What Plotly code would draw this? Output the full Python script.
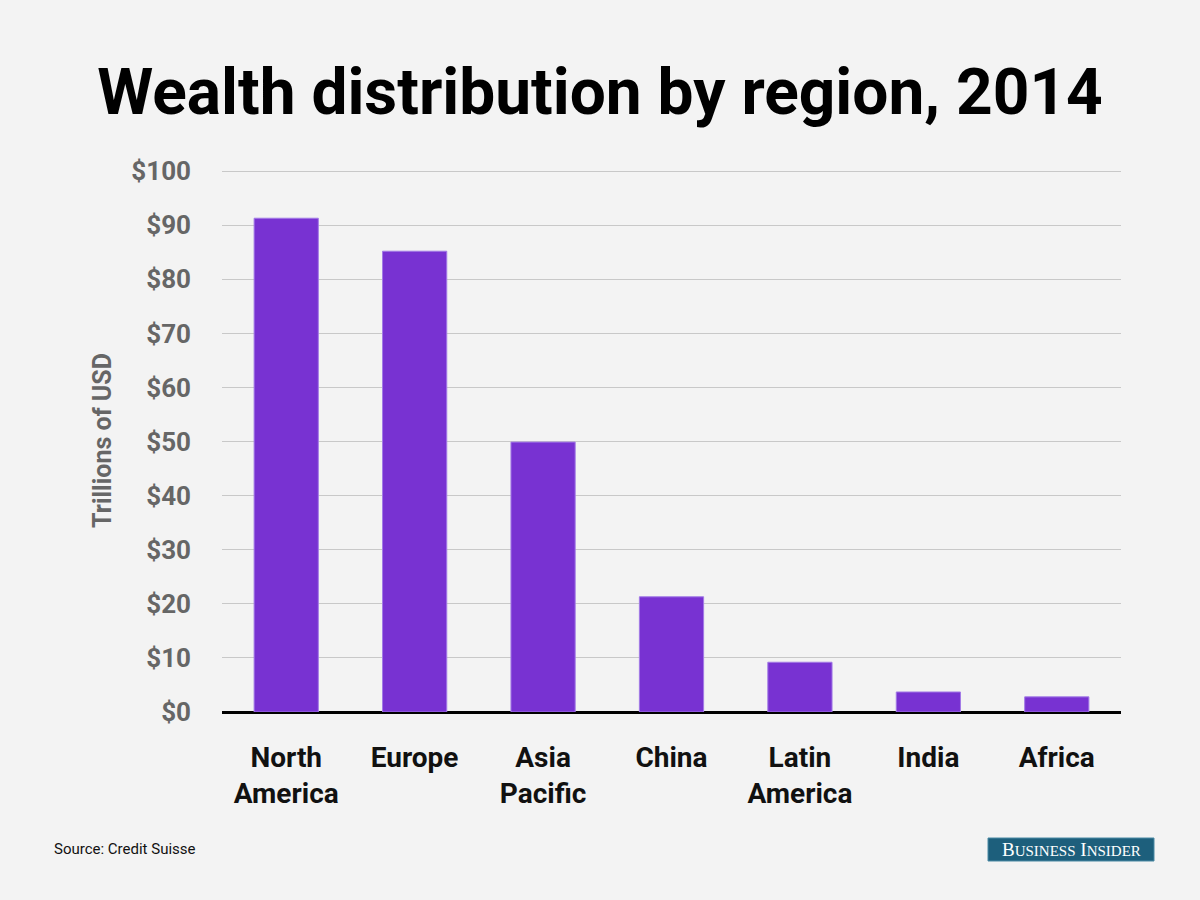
import plotly.graph_objects as go

regions = ["North<br>America", "Europe", "Asia<br>Pacific", "China", "Latin<br>America", "India", "Africa"]
wealth = [91.3, 85.2, 49.9, 21.3, 9.2, 3.7, 2.8]
tick_vals = [0, 10, 20, 30, 40, 50, 60, 70, 80, 90, 100]
tick_text = ["<b>$" + str(v) + "</b>" for v in tick_vals]

FONT = "Roboto, sans-serif"

fig = go.Figure(go.Bar(
    x=regions, y=wealth, width=0.5,
    marker=dict(color="#7832d2", line=dict(color="#a27ae6", width=1)),
))

fig.update_layout(
    width=1200, height=900,
    paper_bgcolor="#f3f3f3", plot_bgcolor="#f3f3f3",
    margin=dict(l=222, r=79, t=169, b=188),
    showlegend=False,
    title=dict(text="<b>Wealth distribution by region, 2014</b>", x=0.5, xanchor="center",
               y=1 - 92 / 900, yanchor="middle",
               font=dict(family=FONT, size=64, color="#000000")),
    xaxis=dict(tickfont=dict(family=FONT, size=28, color="#111111"), showgrid=False,
               ticks="", showline=False, ticklabelstandoff=26,
               tickprefix="<b>", ticksuffix="</b>"),
    yaxis=dict(range=[0, 100.4], tickvals=tick_vals, ticktext=tick_text,
               tickfont=dict(family=FONT, size=26, color="#666666"),
               gridcolor="#c8c8c8", gridwidth=1, zeroline=True, zerolinecolor="#000000",
               zerolinewidth=3, ticks="", ticklabelstandoff=30,
               title=dict(text="<b>Trillions of USD</b>", standoff=12,
                          font=dict(family=FONT, size=25, color="#666666"))),
    font=dict(family=FONT),
)

fig.add_annotation(text="Source: Credit Suisse", xref="paper", yref="paper",
                   x=(52 - 222) / 899, y=(712 - 849) / 543, xanchor="left", yanchor="middle",
                   showarrow=False, font=dict(family="Roboto, sans-serif", size=15, color="#111111"))
fig.add_shape(type="rect", xref="paper", yref="paper",
              x0=(988 - 222) / 899, x1=(1154 - 222) / 899,
              y0=(712 - 861) / 543, y1=(712 - 838) / 543,
              fillcolor="#1d5f7c", line=dict(color="#4a8aa4", width=1))
fig.add_annotation(text="B<span style='font-size:15px'>USINESS</span> I<span style='font-size:15px'>NSIDER</span>",
                   xref="paper", yref="paper",
                   x=(1071 - 222) / 899, y=(712 - 849.5) / 543, xanchor="center", yanchor="middle",
                   showarrow=False, font=dict(family="Liberation Serif, DejaVu Serif, serif", size=19, color="#ffffff"))

fig.write_html("out.html", config={"displayModeBar": False},
               post_script="document.body.style.margin='0';")
